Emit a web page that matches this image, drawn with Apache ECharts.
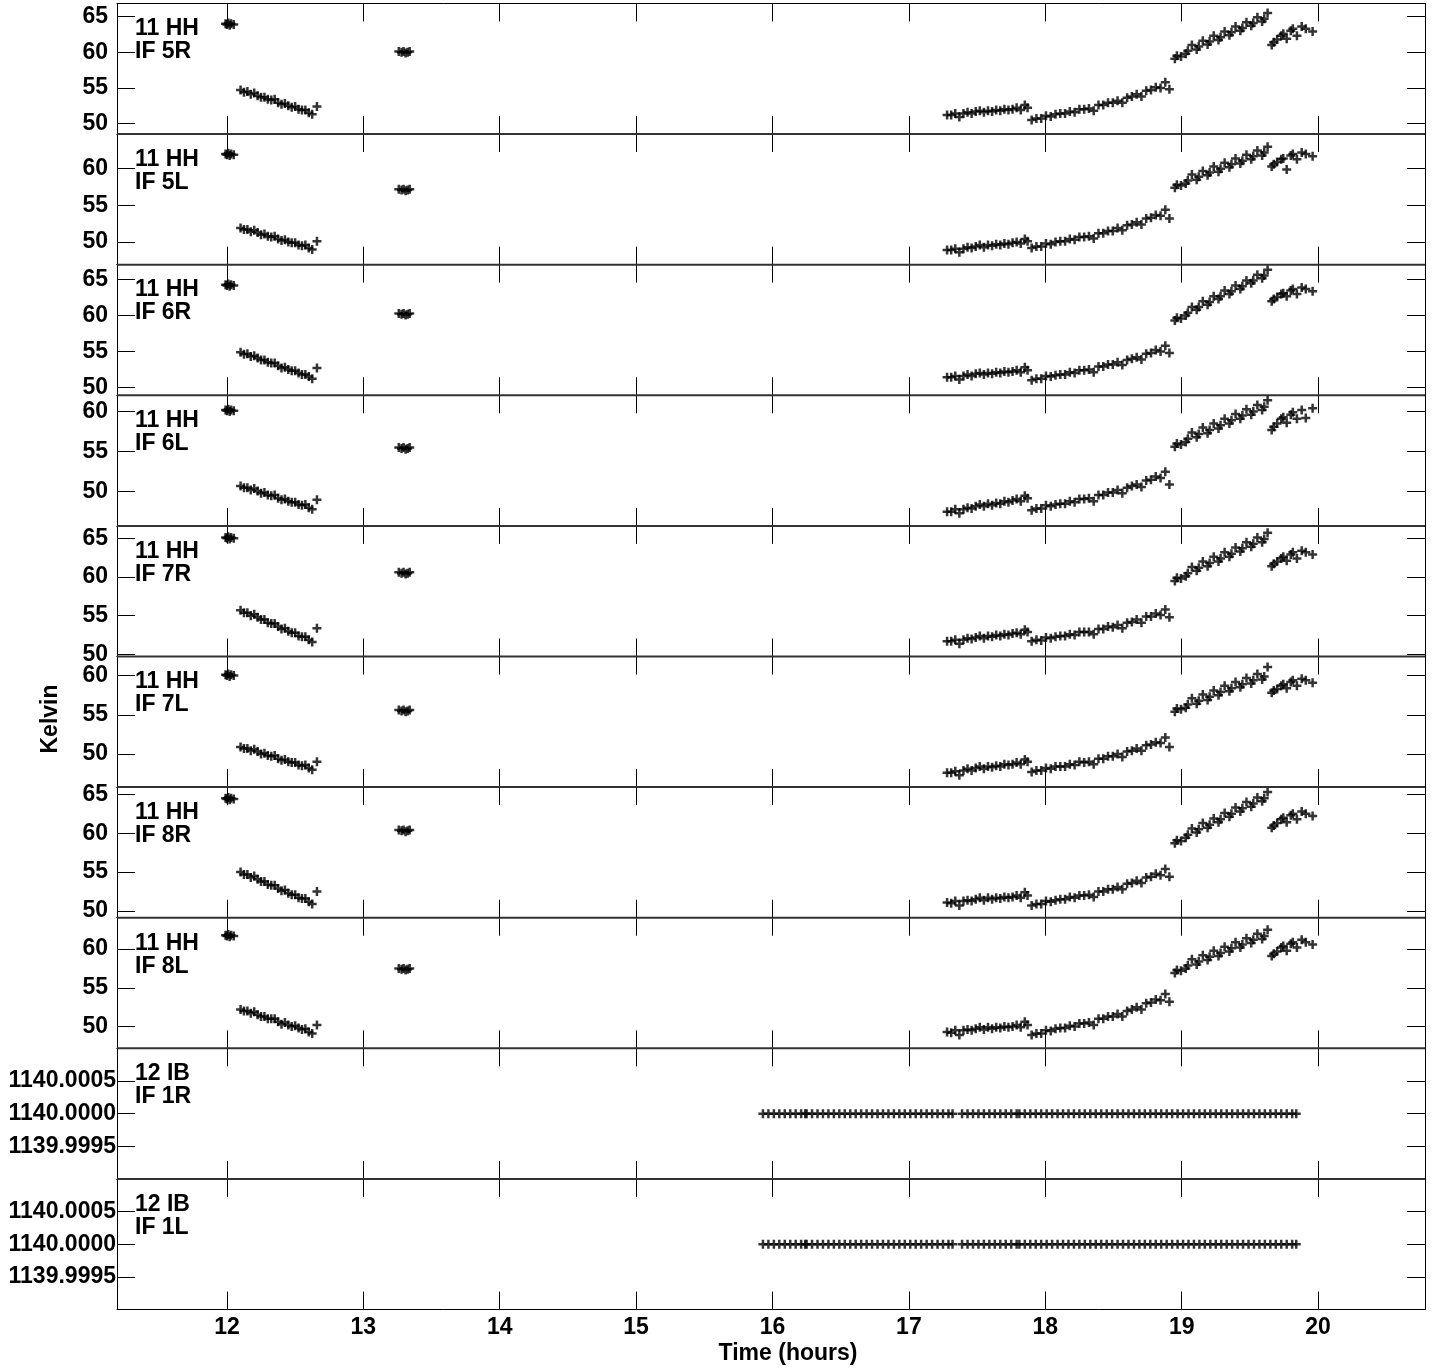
<!DOCTYPE html>
<html><head><meta charset="utf-8">
<script src="https://cdn.jsdelivr.net/npm/echarts@6/dist/echarts.min.js"></script>
<style>html,body{margin:0;padding:0;background:#fff}#c{width:1438px;height:1368px}</style>
</head><body><div id="c"></div>
<script>
// Shared scan times (hours) for the 11 HH panels
const times = [
 11.99,12.00,12.01,12.02,12.03,12.05,
 12.10,12.125,12.15,12.175,12.20,12.225,12.25,12.275,12.30,12.325,12.35,12.375,12.40,12.425,12.45,12.475,12.50,12.525,12.55,12.575,12.60,12.625,12.66,
 13.26,13.28,13.295,13.31,13.325,13.34,
 17.28,17.31,17.34,17.37,17.40,17.43,17.46,17.49,17.52,17.55,17.58,17.61,17.64,17.67,17.70,17.73,17.76,17.79,17.82,17.85,17.87,
 17.90,17.935,17.97,18.005,18.04,18.075,18.11,18.145,18.18,18.215,18.25,18.285,18.32,18.355,18.39,18.425,18.46,18.495,18.53,18.565,18.60,18.635,18.67,18.705,18.74,18.775,18.81,18.845,18.88,18.91,
 18.95,18.965,18.995,19.03,19.045,19.075,19.11,19.125,19.155,19.19,19.205,19.235,19.27,19.285,19.315,19.35,19.365,19.395,19.43,19.445,19.475,19.51,19.525,19.555,19.59,19.605,19.63,
 19.66,19.675,19.70,19.73,19.745,19.77,19.80,19.815,19.845,19.88,19.91,19.96
];
const k5R = [
 64.0,63.9,64.1,63.8,64.0,63.9,
 54.7,54.4,54.5,54.1,54.3,53.9,53.7,53.7,53.4,53.3,53.4,52.9,52.7,52.8,52.5,52.3,52.4,52.0,51.9,51.9,51.5,51.3,52.4,
 60.1,60.0,60.1,59.9,60.0,60.1,
 51.2,51.2,51.4,50.9,51.4,51.6,51.4,51.7,51.8,51.6,51.8,51.7,51.9,51.8,52.0,51.9,52.0,52.2,51.9,52.6,52.2,
 50.5,50.7,50.7,51.1,51.0,51.3,51.4,51.4,51.7,51.6,52.0,52.0,52.1,51.8,52.6,52.6,52.9,52.9,53.2,52.9,53.6,53.8,54.1,53.8,54.6,54.7,55.1,55.0,55.8,54.8,
 59.1,59.5,59.4,59.8,60.2,61.0,60.4,60.8,61.6,61.1,61.5,62.3,61.7,62.1,62.9,62.4,62.8,63.6,63.0,63.4,64.2,63.7,64.1,64.9,64.3,64.7,65.5,
 61.0,61.4,61.8,62.3,62.6,61.9,63.0,63.3,62.3,63.6,63.3,62.9
];
const k5L = [
 62.0,61.9,62.1,61.8,62.0,61.9,
 51.9,51.7,51.7,51.4,51.6,51.3,51.0,51.1,50.8,50.7,50.8,50.4,50.2,50.3,50.0,49.9,49.9,49.6,49.5,49.6,49.2,49.0,50.1,
 57.2,57.1,57.2,57.0,57.1,57.2,
 48.9,48.9,49.1,48.6,49.1,49.3,49.2,49.4,49.6,49.3,49.6,49.5,49.7,49.6,49.8,49.7,49.9,50.0,49.8,50.4,50.1,
 49.2,49.4,49.4,49.8,49.7,50.0,50.1,50.1,50.4,50.3,50.7,50.7,50.8,50.5,51.2,51.2,51.5,51.5,51.9,51.6,52.3,52.4,52.7,52.4,53.2,53.3,53.7,53.6,54.4,53.2,
 57.4,57.8,57.7,58.0,58.4,59.2,58.5,58.9,59.7,59.1,59.5,60.3,59.6,60.0,60.8,60.2,60.6,61.4,60.7,61.1,61.9,61.3,61.7,62.5,61.8,62.2,63.0,
 60.3,60.6,60.9,61.3,61.4,59.9,61.8,62.0,61.3,62.2,62.0,61.7
];
const k6R = [
 64.3,64.2,64.4,64.1,64.3,64.2,
 54.9,54.6,54.7,54.3,54.4,54.1,53.8,53.8,53.5,53.4,53.4,53.0,52.7,52.8,52.5,52.3,52.3,52.0,51.8,51.8,51.5,51.2,52.7,
 60.3,60.2,60.3,60.1,60.2,60.3,
 51.4,51.4,51.6,51.1,51.6,51.8,51.6,51.9,52.0,51.8,52.0,51.9,52.1,52.0,52.2,52.1,52.2,52.4,52.1,52.8,52.4,
 51.0,51.2,51.2,51.6,51.5,51.7,51.8,51.8,52.1,52.0,52.4,52.4,52.5,52.1,52.9,52.9,53.2,53.2,53.5,53.1,53.8,54.0,54.2,53.9,54.7,54.8,55.2,55.0,55.8,54.8,
 59.3,59.7,59.6,60.0,60.4,61.2,60.8,61.2,62.0,61.5,61.9,62.7,62.3,62.7,63.5,63.0,63.4,64.2,63.7,64.1,64.9,64.5,64.9,65.7,65.2,65.6,66.4,
 62.0,62.3,62.6,63.0,63.1,62.7,63.5,63.7,63.0,63.9,63.7,63.4
];
const k6L = [
 60.2,60.1,60.3,60.0,60.2,60.1,
 50.7,50.5,50.5,50.2,50.4,50.1,49.8,49.9,49.6,49.5,49.6,49.2,49.0,49.1,48.8,48.7,48.7,48.4,48.3,48.4,48.0,47.8,49.0,
 55.5,55.4,55.5,55.3,55.4,55.5,
 47.5,47.5,47.8,47.3,47.8,48.0,47.9,48.2,48.4,48.2,48.5,48.3,48.6,48.5,48.8,48.7,48.9,49.1,48.8,49.5,49.2,
 47.7,47.9,47.9,48.3,48.2,48.4,48.5,48.5,48.8,48.7,49.1,49.1,49.2,48.8,49.6,49.6,49.9,49.9,50.2,49.8,50.5,50.7,50.9,50.6,51.4,51.5,51.9,51.7,52.5,50.9,
 55.6,56.0,55.9,56.2,56.6,57.4,56.8,57.2,58.0,57.3,57.7,58.5,57.9,58.3,59.1,58.5,58.9,59.7,59.1,59.5,60.3,59.6,60.0,60.8,60.2,60.6,61.4,
 57.7,58.1,58.5,59.1,59.3,58.6,59.6,59.9,59.1,60.2,59.2,60.4
];
const k7R = [
 65.1,65.0,65.2,64.9,65.1,65.0,
 55.7,55.4,55.4,55.0,55.2,54.8,54.5,54.5,54.1,54.0,54.0,53.6,53.3,53.4,53.0,52.8,52.8,52.4,52.3,52.3,51.9,51.6,53.4,
 60.6,60.5,60.6,60.4,60.5,60.6,
 51.7,51.7,51.9,51.4,51.9,52.1,52.0,52.2,52.4,52.1,52.4,52.3,52.5,52.4,52.6,52.5,52.7,52.8,52.6,53.2,52.9,
 51.7,51.9,51.8,52.2,52.1,52.3,52.4,52.4,52.6,52.5,52.9,52.9,52.9,52.6,53.3,53.3,53.6,53.5,53.8,53.4,54.1,54.2,54.5,54.1,54.9,54.9,55.3,55.1,55.8,54.8,
 59.5,59.9,59.8,60.1,60.5,61.3,60.8,61.2,62.0,61.4,61.8,62.6,62.0,62.4,63.2,62.6,63.0,63.8,63.3,63.7,64.5,63.9,64.3,65.1,64.5,64.9,65.7,
 61.4,61.7,62.0,62.4,62.6,62.1,62.9,63.2,62.4,63.4,63.2,62.9
];
const k7L = [
 60.1,60.0,60.2,59.9,60.1,60.0,
 50.9,50.7,50.7,50.4,50.6,50.3,50.0,50.1,49.8,49.7,49.8,49.4,49.2,49.3,49.0,48.9,48.9,48.6,48.5,48.6,48.2,48.0,49.0,
 55.6,55.5,55.6,55.4,55.5,55.6,
 47.6,47.6,47.8,47.3,47.9,48.1,47.9,48.2,48.4,48.1,48.4,48.3,48.5,48.4,48.7,48.6,48.7,48.9,48.7,49.3,49.0,
 47.7,47.9,47.9,48.2,48.1,48.4,48.4,48.4,48.7,48.6,49.0,48.9,49.0,48.7,49.4,49.4,49.7,49.7,50.0,49.6,50.3,50.4,50.7,50.4,51.1,51.2,51.5,51.4,52.1,50.9,
 55.4,55.8,55.7,55.9,56.3,57.1,56.4,56.8,57.6,56.9,57.3,58.1,57.5,57.9,58.7,58.0,58.4,59.2,58.5,58.9,59.7,59.0,59.4,60.2,59.5,59.9,61.1,
 57.8,58.1,58.3,58.7,58.9,58.4,59.2,59.4,58.7,59.6,59.4,59.1
];
const k8R = [
 64.5,64.4,64.6,64.3,64.5,64.4,
 55.0,54.7,54.7,54.3,54.5,54.1,53.8,53.8,53.4,53.3,53.3,52.9,52.6,52.7,52.3,52.1,52.1,51.7,51.6,51.6,51.2,50.9,52.5,
 60.4,60.3,60.4,60.2,60.3,60.4,
 51.1,51.0,51.3,50.7,51.3,51.4,51.3,51.5,51.7,51.4,51.7,51.5,51.7,51.6,51.8,51.7,51.8,52.0,51.7,52.4,52.0,
 50.7,50.9,50.9,51.3,51.2,51.4,51.5,51.5,51.8,51.7,52.0,52.0,52.1,51.8,52.5,52.5,52.8,52.8,53.1,52.8,53.5,53.6,53.9,53.6,54.3,54.4,54.8,54.6,55.4,54.4,
 58.7,59.1,59.0,59.4,59.8,60.6,60.1,60.5,61.3,60.7,61.1,61.9,61.4,61.8,62.6,62.1,62.5,63.3,62.8,63.2,64.0,63.4,63.8,64.6,64.1,64.5,65.3,
 60.7,61.0,61.3,61.8,62.0,61.4,62.3,62.5,61.8,62.8,62.5,62.2
];
const k8L = [
 61.8,61.7,61.9,61.6,61.8,61.7,
 52.2,52.0,52.0,51.7,51.9,51.5,51.3,51.3,51.0,51.0,51.0,50.6,50.3,50.5,50.2,50.0,50.1,49.8,49.6,49.7,49.3,49.1,50.2,
 57.5,57.4,57.5,57.3,57.4,57.5,
 49.3,49.2,49.5,48.9,49.5,49.6,49.5,49.7,49.9,49.6,49.9,49.7,49.9,49.8,50.0,49.9,50.0,50.2,49.9,50.6,50.2,
 48.9,49.1,49.1,49.5,49.4,49.7,49.8,49.8,50.1,50.0,50.4,50.4,50.5,50.2,51.0,51.0,51.3,51.3,51.6,51.3,52.0,52.2,52.5,52.2,53.0,53.1,53.5,53.4,54.2,53.2,
 56.9,57.3,57.2,57.5,57.9,58.7,58.0,58.4,59.2,58.6,59.0,59.8,59.1,59.5,60.3,59.7,60.1,60.9,60.2,60.6,61.4,60.8,61.2,62.0,61.3,61.7,62.5,
 59.1,59.4,59.7,60.2,60.4,59.8,60.7,60.9,60.2,61.2,60.9,60.6
];
// 12 IB scan times and values
const ibTimes = [
 15.93,15.97,16.01,16.05,16.09,16.13,16.17,16.21,16.24,16.25,16.29,16.33,16.37,16.41,16.45,16.49,16.53,16.57,16.61,16.65,16.69,16.73,16.77,16.81,16.85,16.89,16.93,16.97,17.01,17.05,17.09,17.13,17.17,17.21,17.25,17.29,17.32,
 17.39,17.43,17.47,17.51,17.55,17.59,17.63,17.67,17.71,17.75,17.79,17.81,17.85,17.89,17.93,17.97,18.01,18.05,18.09,18.13,18.17,18.21,18.25,18.29,18.33,18.37,18.41,18.45,18.49,18.53,18.57,18.61,18.65,18.69,18.73,18.77,18.81,18.85,18.89,18.93,18.97,19.01,19.05,19.09,19.13,19.17,19.21,19.25,19.29,19.33,19.37,19.41,19.45,19.49,19.53,19.57,19.61,19.65,19.69,19.73,19.77,19.81,19.84
];
const ib1R = [
 1140,1140,1140,1140,1140,1140,1140,1140,1140,1140,1140,1140,1140,1140,1140,1140,1140,1140,1140,1140,1140,1140,1140,1140,1140,1140,1140,1140,1140,1140,1140,1140,1140,1140,1140,1140,1140,
 1140,1140,1140,1140,1140,1140,1140,1140,1140,1140,1140,1140,1140,1140,1140,1140,1140,1140,1140,1140,1140,1140,1140,1140,1140,1140,1140,1140,1140,1140,1140,1140,1140,1140,1140,1140,1140,1140,1140,1140,1140,1140,1140,1140,1140,1140,1140,1140,1140,1140,1140,1140,1140,1140,1140,1140,1140,1140,1140,1140,1140,1140,1140
];
const ib1L = [
 1140,1140,1140,1140,1140,1140,1140,1140,1140,1140,1140,1140,1140,1140,1140,1140,1140,1140,1140,1140,1140,1140,1140,1140,1140,1140,1140,1140,1140,1140,1140,1140,1140,1140,1140,1140,1140,
 1140,1140,1140,1140,1140,1140,1140,1140,1140,1140,1140,1140,1140,1140,1140,1140,1140,1140,1140,1140,1140,1140,1140,1140,1140,1140,1140,1140,1140,1140,1140,1140,1140,1140,1140,1140,1140,1140,1140,1140,1140,1140,1140,1140,1140,1140,1140,1140,1140,1140,1140,1140,1140,1140,1140,1140,1140,1140,1140,1140,1140,1140,1140
];
const xTicks = [12,13,14,15,16,17,18,19,20];
const yTicks4 = [50,55,60,65];
const yTicks3 = [50,55,60];
const ibTicks = [1139.9995,1140.0000,1140.0005];
const panelNames = [
 ['11 HH','IF 5R'],['11 HH','IF 5L'],['11 HH','IF 6R'],['11 HH','IF 6L'],
 ['11 HH','IF 7R'],['11 HH','IF 7L'],['11 HH','IF 8R'],['11 HH','IF 8L'],
 ['12 IB','IF 1R'],['12 IB','IF 1L']
];

const FONT = '"Liberation Sans", Arial, sans-serif';
const L = 117, R = 1425, TOP = 3.4, BOT = 1309.6;
const H = (BOT - TOP) / 10;
const xMin = 11.194, xMax = 20.784;

const panels = [
 {x: times, y: k5R, min: 48.53, max: 66.85, ticks: yTicks4},
 {x: times, y: k5L, min: 46.92, max: 64.73, ticks: yTicks3},
 {x: times, y: k6R, min: 48.9, max: 67.1, ticks: yTicks4},
 {x: times, y: k6L, min: 45.74, max: 62.03, ticks: yTicks3},
 {x: times, y: k7R, min: 49.74, max: 66.6, ticks: yTicks4},
 {x: times, y: k7L, min: 45.77, max: 62.44, ticks: yTicks3},
 {x: times, y: k8R, min: 49.14, max: 65.92, ticks: yTicks4},
 {x: times, y: k8L, min: 47.17, max: 64.06, ticks: yTicks3},
 {x: ibTimes, y: ib1R, min: 1139.999, max: 1140.001, ticks: ibTicks, ib: true},
 {x: ibTimes, y: ib1L, min: 1139.999, max: 1140.001, ticks: ibTicks, ib: true}
];

const PLUS = 'path://M6.5,0H11.5V6.5H18V11.5H11.5V18H6.5V11.5H0V6.5H6.5Z';
const grid = [], xAxis = [], yAxis = [], series = [], graphic = [];
const lineStyle = {color: '#000', width: 1};
const labelStyle = {color: '#000', fontSize: 23, fontWeight: 'bold', fontFamily: FONT};

panels.forEach((p, k) => {
  const top = TOP + k * H;
  grid.push({left: L, top: top, width: R - L, height: H});
  ['bottom', 'top'].forEach(pos => {
    xAxis.push({
      type: 'value', gridIndex: k, min: xMin, max: xMax, position: pos,
      axisLine: {show: true, onZero: false, lineStyle},
      axisTick: {show: true, inside: true, length: 18, customValues: xTicks, lineStyle},
      axisLabel: Object.assign({show: pos === 'bottom' && k === 9, customValues: xTicks, margin: 7}, labelStyle),
      splitLine: {show: false}
    });
  });
  ['left', 'right'].forEach(pos => {
    yAxis.push({
      type: 'value', gridIndex: k, min: p.min, max: p.max, position: pos,
      axisLine: {show: true, onZero: false, lineStyle},
      axisTick: {show: true, inside: true, length: 18, customValues: p.ticks, lineStyle},
      axisLabel: Object.assign({
        show: pos === 'left', customValues: p.ticks, margin: p.ib ? 1 : 9,
        formatter: p.ib ? (v => Number(v).toFixed(4)) : (v => String(Math.round(v)))
      }, labelStyle),
      splitLine: {show: false}
    });
  });
  series.push({
    type: 'scatter', xAxisIndex: 2 * k, yAxisIndex: 2 * k,
    data: p.x.map((t, i) => [t, p.y[i]]),
    symbol: PLUS, symbolSize: 9, itemStyle: {color: '#000'},
    silent: true, animation: false
  });
  const nm = panelNames[k];
  graphic.push({type: 'text', x: 135, y: top + 25.5, style: {text: nm[0], font: 'bold 23px ' + FONT, fill: '#000', align: 'left', verticalAlign: 'middle'}});
  graphic.push({type: 'text', x: 135, y: top + 48.5, style: {text: nm[1], font: 'bold 23px ' + FONT, fill: '#000', align: 'left', verticalAlign: 'middle'}});
  if (k > 0) {
    graphic.push({type: 'line', shape: {x1: L, y1: top, x2: R, y2: top}, style: {stroke: '#333', lineWidth: 2}, z: 10});
  }
});

graphic.push({type: 'text', x: 51, y: 719, rotation: Math.PI / 2, style: {text: 'Kelvin', font: 'bold 23px ' + FONT, fill: '#000', align: 'center', verticalAlign: 'middle'}});
graphic.push({type: 'text', x: 788, y: 1354, style: {text: 'Time (hours)', font: 'bold 23px ' + FONT, fill: '#000', align: 'center', verticalAlign: 'middle'}});

const chart = echarts.init(document.getElementById('c'), null, {renderer: 'canvas'});
chart.setOption({animation: false, backgroundColor: '#fff', grid, xAxis, yAxis, series, graphic});
</script>
</body></html>
